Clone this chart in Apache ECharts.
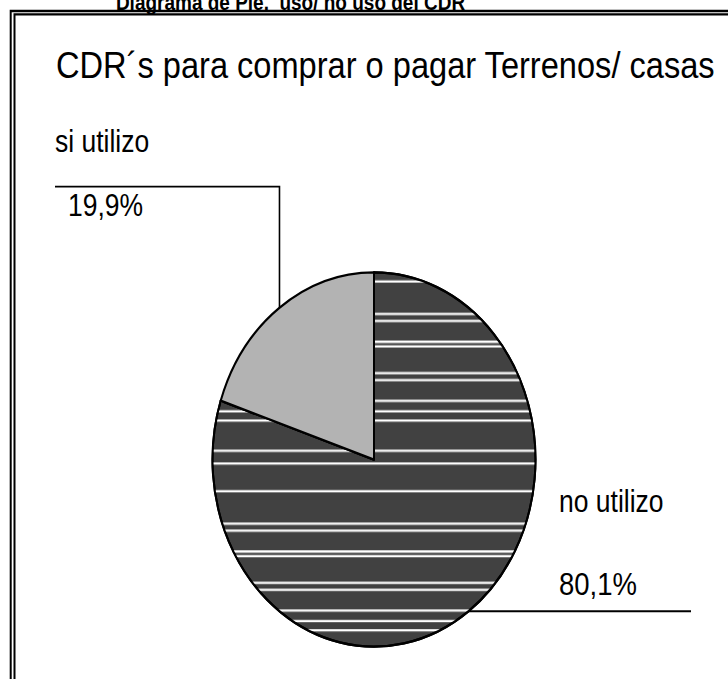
<!DOCTYPE html>
<html>
<head>
<meta charset="utf-8">
<script src="https://cdn.jsdelivr.net/npm/echarts@6/dist/echarts.min.js"></script>
<style>
html, body { margin: 0; padding: 0; background: #fff; width: 728px; height: 679px; overflow: hidden; }
/* the original export is stretched vertically, so the pie is an ellipse */
#main { width: 728px; height: 586px; transform: scaleY(1.1587); transform-origin: 0 0; }
</style>
</head>
<body>
<div id="main"></div>
<script>
const titulo = 'Diagrama de Pie.  uso/ no uso del CDR'
const subtitulo = 'CDR´s para comprar o pagar Terrenos/ casas'
const categorias = ['no utilizo', 'si utilizo']
const porcentajes = [80.1, 19.9]

// label placement (chart space, before the vertical stretch)
const etiquetas = [
  {x: 559, yMid: 468.2, lineY: 527, lineEnd: 691},
  {x: 55, yMid: 149.6, lineY: 161.1, lineEnd: 55}
]
const centro = [374, 396.6]
const radio = 161.5

const chart = echarts.init(document.getElementById('main'), null, {renderer: 'svg'})

const fmt = v => v.toFixed(1).replace('.', ',') + '%'

const datos = categorias.map((c, i) => ({name: c, value: porcentajes[i]}))

const option = {
  animation: false,
  backgroundColor: '#fff',
  textStyle: {fontFamily: 'Liberation Sans, Arial, sans-serif'},
  graphic: [
    {type: 'rect', silent: true, shape: {x: 10.7, y: 9.5, width: 2000, height: 2000},
      style: {fill: 'none', stroke: '#000', lineWidth: 2}},
    {type: 'rect', silent: true, shape: {x: 14.5, y: 12.4, width: 2000, height: 2000},
      style: {fill: 'none', stroke: '#000', lineWidth: 2}},
    {type: 'text', silent: true, x: 290.5, y: 1.4,
      style: {text: titulo, font: 'bold 19px "Liberation Sans", Arial, sans-serif', fill: '#000',
        align: 'center', verticalAlign: 'middle'}},
    {type: 'text', silent: true, x: 56, y: 56.1,
      style: {text: subtitulo, font: '32.6px "Liberation Sans", Arial, sans-serif', fill: '#000',
        align: 'left', verticalAlign: 'middle'}}
  ],
  series: [{
    type: 'pie',
    silent: true,
    center: centro,
    radius: radio,
    startAngle: 90,
    clockwise: true,
    data: datos,
    itemStyle: {borderColor: '#000', borderWidth: 2},
    color: ['#414141', '#b3b3b3'],
    label: {
      show: true,
      position: 'outside',
      color: '#000',
      formatter: p => '{n' + p.dataIndex + '|' + p.name + '}\n{p' + p.dataIndex + '|' + fmt(p.value) + '}',
      rich: {
        n0: {fontSize: 26.5, lineHeight: 71.6, color: '#000'},
        p0: {fontSize: 27.5, lineHeight: 71.6, color: '#000'},
        n1: {fontSize: 26.5, lineHeight: 56, color: '#000'},
        p1: {fontSize: 26.5, lineHeight: 56, color: '#000', padding: [0, 0, 0, 13]}
      }
    },
    labelLine: {show: true, length: 20, length2: 20, lineStyle: {color: '#000', width: 1.6}},
    labelLayout: function (params) {
      const e = etiquetas[params.dataIndex]
      let p0 = params.labelLinePoints && params.labelLinePoints[0]
      if (!p0) {
        const total = porcentajes.reduce((a, b) => a + b, 0)
        let acc = 0
        for (let i = 0; i < params.dataIndex; i++) acc += porcentajes[i]
        const mid = (90 - (acc + porcentajes[params.dataIndex] / 2) / total * 360) * Math.PI / 180
        p0 = [centro[0] + radio * Math.cos(mid), centro[1] - radio * Math.sin(mid)]
      }
      const pts = params.dataIndex === 1
        ? [p0, [p0[0], e.lineY], [e.lineEnd, e.lineY]]
        : [p0, [p0[0], p0[1]], [e.lineEnd, p0[1]]]
      return {x: e.x, y: e.yMid, align: 'left', verticalAlign: 'middle', labelLinePoints: pts}
    }
  }]
}

// striped rendering of the dark slice (uneven white lines, period 181px)
option.series[0].data[0].itemStyle = {
  color: '#414141',
  decal: {
    symbol: 'rect', symbolSize: 1, color: '#ffffff', rotation: 0,
    dashArrayX: [1, 0],
    dashArrayY: [2, 24, 2, 9, 2, 22, 2, 26, 2, 4, 2, 16, 2, 2, 2, 21, 2, 4, 2, 16, 2, 7, 2, 6]
  }
}
option.series[0].data[1].itemStyle = {color: '#b3b3b3'}

chart.setOption(option)
window.onresize = function () {
  chart.resize()
}
</script>
</body>
</html>
